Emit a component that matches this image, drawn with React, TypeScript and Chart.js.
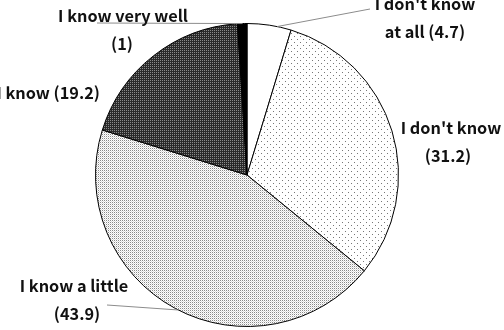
import React, { useEffect, useRef } from "react";
import { Chart, registerables } from "chart.js";

Chart.register(...registerables);

const categories = ["I don't know at all", "I don't know", "I know a little", "I know", "I know very well"];
const values = [4.7, 31.2, 43.9, 19.2, 1];
const labelLines = [
  ["I don't know", "at all (4.7)"],
  ["I don't know", "(31.2)"],
  ["I know a little", "(43.9)"],
  ["I know (19.2)"],
  ["I know very well", "(1)"],
];

function makePattern(w: number, h: number, bg: string, dots: [number, number, string][]) {
  const c = document.createElement("canvas");
  c.width = w;
  c.height = h;
  const ctx = c.getContext("2d")!;
  ctx.fillStyle = bg;
  ctx.fillRect(0, 0, w, h);
  for (const [x, y, col] of dots) {
    ctx.fillStyle = col;
    ctx.fillRect(x, y, 1, 1);
  }
  return ctx.createPattern(c, "repeat")!;
}

export default function App() {
  const ref = useRef<HTMLCanvasElement>(null);
  useEffect(() => {
    document.body.style.margin = "0";
    const font = "bold 16.3px 'Noto Sans CJK KR', 'Noto Sans', sans-serif";
    const fills = [
      "#ffffff",
      makePattern(6, 6, "#ffffff", [[0, 0, "#777"], [3, 3, "#777"]]),
      makePattern(2, 2, "#ffffff", [[0, 0, "#8a8a8a"], [1, 1, "#dcdcdc"]]),
      makePattern(2, 2, "#2a2a2a", [[0, 0, "#8a8a8a"]]),
      "#000000",
    ];
    const textPos: [number, number, CanvasTextAlign][][] = [
      [[425, 4, "center"], [425, 32, "center"]],
      [[451, 128, "center"], [448, 156, "center"]],
      [[74, 286, "center"], [77, 314, "center"]],
      [[100, 93, "right"]],
      [[123, 16, "center"], [122, 44, "center"]],
    ];
    const leaders: [number, number, number, number][] = [
      [0, 370, 9, 11.5],
      [2, 107, 305, 207],
      [4, 97, 23, 358.3],
    ];
    const labelPlugin = {
      id: "labels",
      afterDraw(chart: any) {
        const ctx = chart.ctx;
        const arc = chart.getDatasetMeta(0).data[0] as any;
        const cx = arc.x, cy = arc.y, r = arc.outerRadius;
        ctx.save();
        ctx.strokeStyle = "#8c8c8c";
        ctx.lineWidth = 1;
        for (const [, lx, ly, deg] of leaders) {
          const a = (deg * Math.PI) / 180;
          const px = cx + r * Math.sin(a);
          const py = cy - r * Math.cos(a);
          ctx.beginPath();
          ctx.moveTo(lx, ly);
          ctx.lineTo(px, py);
          ctx.stroke();
        }
        ctx.font = font;
        ctx.fillStyle = "#111";
        ctx.textBaseline = "middle";
        labelLines.forEach((lines, i) => {
          lines.forEach((t, j) => {
            const [x, y, al] = textPos[i][j];
            ctx.textAlign = al;
            ctx.fillText(t, x, y);
          });
        });
        ctx.restore();
      },
    };
    const chart = new Chart(ref.current!, {
      type: "pie",
      data: {
        labels: categories,
        datasets: [
          {
            data: values,
            backgroundColor: fills as any,
            borderColor: "#000",
            borderWidth: 1,
          },
        ],
      },
      options: {
        animation: false,
        responsive: false,
        layout: { padding: { top: 23, bottom: 3, left: 0, right: 10 } },
        plugins: { legend: { display: false }, tooltip: { enabled: false } },
      },
      plugins: [labelPlugin],
    });
    return () => chart.destroy();
  }, []);
  return (
    <div style={{ position: "fixed", left: 0, top: 0, width: 504, height: 330, background: "#fff" }}>
      <canvas ref={ref} width={504} height={330} style={{ width: 504, height: 330 }} />
    </div>
  );
}
